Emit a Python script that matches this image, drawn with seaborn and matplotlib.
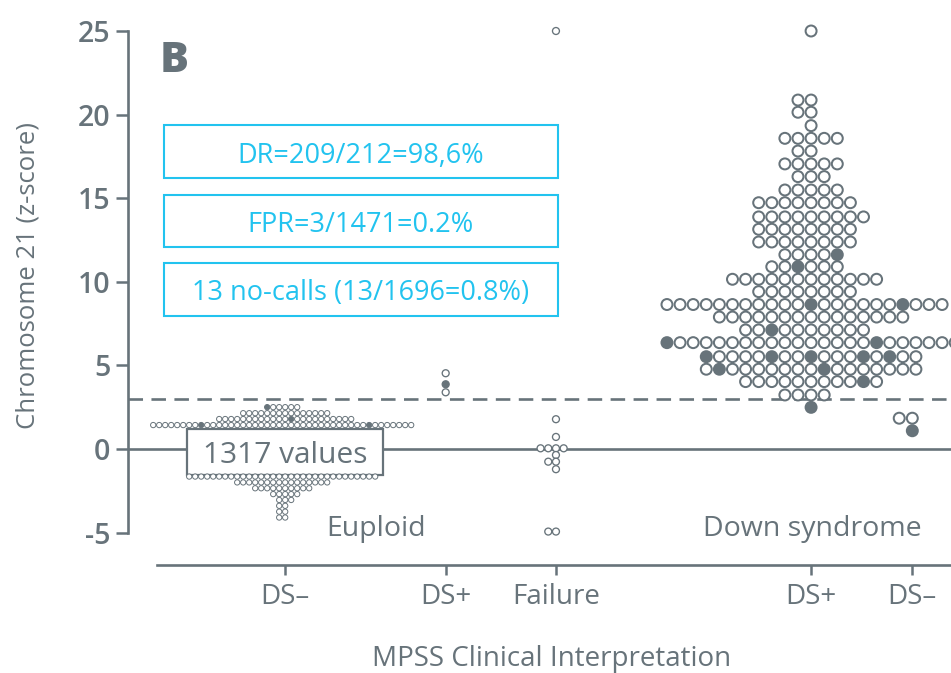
import numpy as np
import pandas as pd
import matplotlib
matplotlib.use("Agg")
import matplotlib.pyplot as plt
from matplotlib.patches import Rectangle
import seaborn as sns

sns.set_style("ticks")
plt.rcParams["font.family"] = ["Open Sans", "DejaVu Sans"]
plt.rcParams["axes.unicode_minus"] = False

GRAY = "#67737a"
CYAN = "#22c3ef"

# ---- data -----------------------------------------------------------------
# x categories (MPSS interpretation) within the two karyotype groups
categories = ["DS–", "DS+", "Failure", "DS+", "DS–"]
karyotypes = ["Euploid", "Down syndrome"]

# Euploid / DS– : only the tails are drawn, the central 1317 values are boxed
eu_neg_z = [2.50, 2.14, 1.79, 1.43, -1.65, -2.00, -2.35, -2.70, -3.05, -3.40, -3.75, -4.10]
eu_neg_n = [6, 15, 23, 44, 32, 16, 10, 5, 3, 2, 2, 2]
eu_neg_hi = {2.50: [-3], 1.79: [1], 1.43: [-14, 14]}
eu_boxed = 1317
eu_box_range = (-1.555, 1.18)

# Euploid / DS+ (false positives)
eu_pos_z = [4.53, 3.87, 3.39]
eu_pos_n = [1, 1, 1]
eu_pos_hi = {3.87: [0]}

# Failures (no-calls)
fail_z = [25.0, 1.78, 0.72, 0.04, -0.36, -0.76, -1.21, -4.94]
fail_n = [1, 1, 1, 4, 1, 2, 1, 2]
fail_hi = {}

# Down syndrome / DS+
ds_pos_z = [25.0, 20.87, 20.14, 19.34, 18.58, 17.82, 17.05, 16.29, 15.49, 14.73,
            13.88, 13.14, 12.38, 11.62, 10.90, 10.15, 9.41, 8.64, 7.89, 7.12,
            6.36, 5.52, 4.77, 4.03, 3.23, 2.49]
ds_pos_n = [1, 2, 2, 1, 5, 2, 5, 3, 5, 8,
            9, 8, 8, 5, 6, 12, 8, 22, 15, 10,
            23, 17, 17, 11, 4, 1]
ds_pos_hi = {11.62: [2], 10.90: [-1], 8.64: [0, 7], 7.12: [-3], 6.36: [-11, 5],
             5.52: [-8, -3, 0, 4, 6], 4.77: [-7, 1], 4.03: [4], 2.49: [0]}

# Down syndrome / DS– (missed cases)
ds_neg_z = [1.84, 1.09]
ds_neg_n = [2, 1]
ds_neg_hi = {1.09: [0]}

cutoff = 3.0
stats_lines = ["DR=209/212=98,6%", "FPR=3/1471=0.2%", "13 no-calls (13/1696=0.8%)"]

# ---- layout ---------------------------------------------------------------
cat_pos = [19.1, 38.6, 52.0, 83.0, 95.3]
label_pos = [30.1, 83.1]


def dot_rows(center, step, z_rows, counts, highlighted):
    """Lay out binned values as centred rows of touching dots."""
    recs = []
    for z, n in zip(z_rows, counts):
        hi = highlighted.get(z, [])
        for slot in np.arange(n) - n // 2:
            recs.append({"x": center + slot * step, "z": z,
                         "kind": "filled" if slot in hi else "open"})
    return pd.DataFrame(recs)


groups = [
    # frame, marker area, edge width
    (dot_rows(cat_pos[0], 0.729, eu_neg_z, eu_neg_n, eu_neg_hi), 14.5, 0.7),
    (dot_rows(cat_pos[1], 0.936, eu_pos_z, eu_pos_n, eu_pos_hi), 25, 0.95),
    (dot_rows(cat_pos[2], 0.936, fail_z, fail_n, fail_hi), 25, 0.95),
    (dot_rows(cat_pos[3], 1.592, ds_pos_z, ds_pos_n, ds_pos_hi), 62, 1.45),
    (dot_rows(cat_pos[4], 1.592, ds_neg_z, ds_neg_n, ds_neg_hi), 62, 1.45),
]

fig = plt.figure(figsize=(9.51, 6.73), dpi=100)
ax = fig.add_axes([128 / 951, 108 / 673, 823 / 951, 534 / 673])

for frame, area, lw in groups:
    sns.scatterplot(data=frame, x="x", y="z", hue="kind",
                    hue_order=["open", "filled"],
                    palette={"open": "white", "filled": GRAY},
                    s=area, edgecolor=GRAY, linewidth=lw, legend=False,
                    ax=ax, clip_on=False, zorder=3)

ax.set_xlim(0, 100)
ax.set_ylim(-6.94, 25)

# reference lines
ax.axhline(0, color=GRAY, lw=1.9, zorder=1)
ax.axhline(cutoff, color=GRAY, lw=1.9, dashes=(5.5, 3.2), zorder=1)

# summary box for the bulk of euploid values
ax.add_patch(Rectangle((7.13, eu_box_range[0]), 31.0 - 7.13,
                       eu_box_range[1] - eu_box_range[0],
                       facecolor="white", edgecolor=GRAY, lw=1.6, zorder=2))
ax.text(cat_pos[0], -0.86, f"{eu_boxed} values", ha="center", va="baseline",
        fontsize=21.5, color=GRAY, zorder=4)

# performance boxes
box_spans = [(16.21, 19.38), (12.10, 15.19), (7.95, 11.12)]
text_base = [17.12, 13.0, 8.91]
for (lo, hi), base, line in zip(box_spans, text_base, stats_lines):
    ax.add_patch(Rectangle((4.37, lo), 52.2 - 4.37, hi - lo, facecolor="white",
                           edgecolor=CYAN, lw=1.5, zorder=2))
    ax.text((4.37 + 52.2) / 2, base, line, ha="center", va="baseline",
            fontsize=19.5, color=CYAN, zorder=4)

# karyotype group labels and panel letter
for x, name in zip(label_pos, karyotypes):
    ax.text(x, -5.23, name, ha="center", va="baseline", fontsize=20.5,
            color=GRAY)
ax.text(3.89, 22.55, "B", ha="left", va="baseline", fontsize=31,
        fontweight="heavy", color=GRAY)

# axes styling
for side in ["top", "right"]:
    ax.spines[side].set_visible(False)
ax.spines["left"].set_bounds(-5, 25)
ax.spines["bottom"].set_bounds(3.5, 100)
for side in ["left", "bottom"]:
    ax.spines[side].set_color(GRAY)
    ax.spines[side].set_linewidth(1.9)

ax.set_yticks(range(-5, 26, 5))
ax.set_xticks(cat_pos, categories)
ax.tick_params(axis="y", length=8.6, width=1.8, color=GRAY, pad=4,
               labelsize=20.5, labelcolor=GRAY)
ax.tick_params(axis="x", length=7, width=1.8, color=GRAY, pad=6,
               labelsize=20, labelcolor=GRAY)
for lbl in ax.get_yticklabels():
    lbl.set_fontweight("semibold")

ax.set_xlabel("MPSS Clinical Interpretation", fontsize=20, color=GRAY,
              va="baseline")
ax.xaxis.set_label_coords(0.515, -0.189)
ax.set_ylabel("Chromosome 21 (z-score)", fontsize=18.5, color=GRAY,
              va="center", ha="center")
ax.yaxis.set_label_coords(-0.1215, 0.543)

fig.savefig("out.png", dpi=100)
